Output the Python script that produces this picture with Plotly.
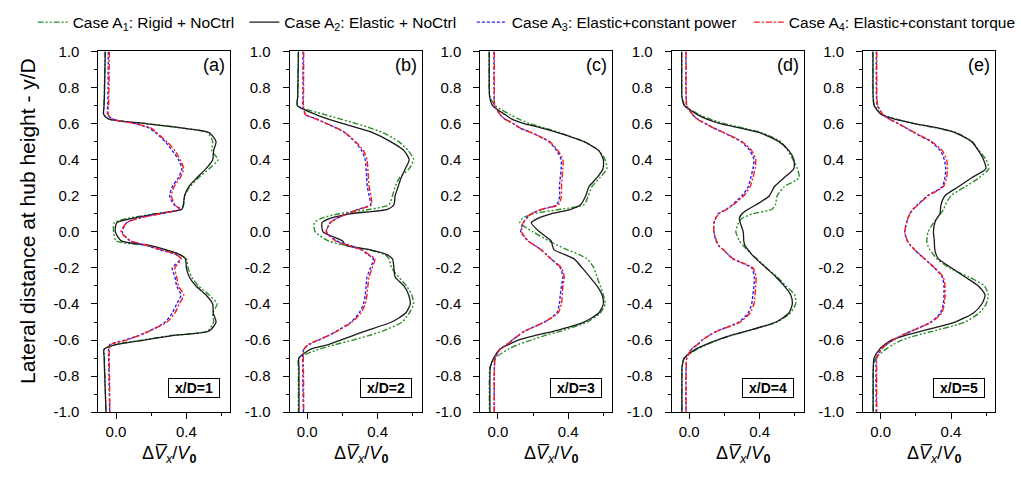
import plotly.graph_objects as go

# ---------------- data ----------------
Y = [1.0, 0.8, 0.75, 0.7, 0.65, 0.625, 0.6, 0.575, 0.55, 0.5, 0.45, 0.4, 0.35, 0.3, 0.25,
     0.2, 0.15, 0.125, 0.1, 0.075, 0.05, 0.0, -0.05, -0.075, -0.1, -0.125, -0.15, -0.2,
     -0.25, -0.3, -0.35, -0.4, -0.45, -0.5, -0.55, -0.575, -0.6, -0.625, -0.65, -0.7,
     -0.75, -0.8, -1.0]

# x/D = 1
A1_1 = [-0.062, -0.066, -0.067, -0.069, -0.070, -0.040, 0.170, 0.380, 0.520, 0.550, 0.545, 0.580, 0.530, 0.470, 0.420, 0.390, 0.385, 0.370, 0.220, 0.070, -0.010, -0.014, 0.000, 0.170, 0.280, 0.360, 0.400, 0.410, 0.430, 0.470, 0.530, 0.575, 0.550, 0.555, 0.520, 0.310, 0.150, -0.010, -0.066, -0.066, -0.065, -0.063, -0.057]
A2_1 = [-0.061, -0.065, -0.066, -0.068, -0.070, -0.040, 0.170, 0.380, 0.530, 0.569, 0.555, 0.550, 0.512, 0.460, 0.413, 0.390, 0.383, 0.375, 0.230, 0.095, 0.004, -0.004, 0.030, 0.190, 0.285, 0.360, 0.395, 0.400, 0.417, 0.455, 0.512, 0.550, 0.553, 0.569, 0.530, 0.320, 0.160, 0.000, -0.068, -0.067, -0.066, -0.064, -0.057]
A3_1 = [-0.044, -0.045, -0.046, -0.047, -0.048, -0.020, 0.110, 0.190, 0.225, 0.280, 0.320, 0.355, 0.375, 0.355, 0.320, 0.305, 0.330, 0.370, 0.250, 0.120, 0.060, 0.035, 0.080, 0.170, 0.250, 0.340, 0.370, 0.320, 0.335, 0.345, 0.370, 0.345, 0.320, 0.280, 0.190, 0.130, 0.050, -0.035, -0.042, -0.042, -0.041, -0.040, -0.036]
A4_1 = [-0.038, -0.040, -0.041, -0.042, -0.044, -0.020, 0.110, 0.200, 0.230, 0.290, 0.335, 0.365, 0.385, 0.365, 0.330, 0.315, 0.335, 0.360, 0.250, 0.130, 0.060, 0.028, 0.085, 0.180, 0.260, 0.340, 0.370, 0.335, 0.345, 0.355, 0.385, 0.360, 0.335, 0.290, 0.190, 0.130, 0.060, -0.030, -0.038, -0.038, -0.038, -0.037, -0.035]

# x/D = 2
A1_2 = [-0.050, -0.053, -0.054, -0.055, 0.100, 0.190, 0.280, 0.360, 0.430, 0.520, 0.575, 0.605, 0.580, 0.525, 0.500, 0.485, 0.465, 0.360, 0.180, 0.080, 0.040, 0.045, 0.120, 0.220, 0.350, 0.440, 0.465, 0.480, 0.520, 0.565, 0.595, 0.605, 0.580, 0.540, 0.430, 0.350, 0.260, 0.160, 0.070, -0.050, -0.050, -0.050, -0.050]
A2_2 = [-0.050, -0.053, -0.054, -0.056, 0.050, 0.120, 0.205, 0.290, 0.372, 0.474, 0.550, 0.580, 0.558, 0.534, 0.517, 0.500, 0.493, 0.456, 0.242, 0.130, 0.084, 0.090, 0.200, 0.220, 0.360, 0.450, 0.485, 0.493, 0.500, 0.550, 0.577, 0.586, 0.560, 0.480, 0.330, 0.260, 0.190, 0.120, 0.020, -0.047, -0.047, -0.047, -0.047]
A3_2 = [-0.024, -0.024, -0.024, -0.025, -0.010, 0.056, 0.110, 0.167, 0.214, 0.270, 0.310, 0.330, 0.335, 0.338, 0.342, 0.352, 0.360, 0.290, 0.225, 0.167, 0.130, 0.110, 0.167, 0.242, 0.307, 0.344, 0.376, 0.360, 0.340, 0.335, 0.330, 0.320, 0.295, 0.250, 0.167, 0.120, 0.065, 0.010, -0.020, -0.025, -0.025, -0.025, -0.022]
A4_2 = [-0.020, -0.021, -0.021, -0.022, -0.010, 0.050, 0.110, 0.170, 0.215, 0.275, 0.320, 0.340, 0.345, 0.348, 0.352, 0.362, 0.365, 0.295, 0.228, 0.170, 0.130, 0.108, 0.160, 0.235, 0.310, 0.350, 0.385, 0.370, 0.352, 0.345, 0.340, 0.330, 0.305, 0.255, 0.170, 0.120, 0.060, 0.005, -0.018, -0.022, -0.022, -0.021, -0.020]

# x/D = 3
A1_3 = [-0.049, -0.049, -0.045, -0.015, 0.070, 0.120, 0.180, 0.270, 0.350, 0.490, 0.575, 0.610, 0.620, 0.580, 0.535, 0.515, 0.490, 0.360, 0.200, 0.140, 0.125, 0.200, 0.290, 0.340, 0.396, 0.460, 0.508, 0.546, 0.564, 0.583, 0.600, 0.610, 0.583, 0.508, 0.360, 0.265, 0.190, 0.116, 0.060, -0.015, -0.045, -0.048, -0.048]
A2_3 = [-0.049, -0.049, -0.047, -0.030, 0.040, 0.080, 0.150, 0.250, 0.340, 0.490, 0.574, 0.600, 0.598, 0.564, 0.518, 0.500, 0.470, 0.415, 0.303, 0.228, 0.190, 0.237, 0.303, 0.310, 0.320, 0.378, 0.434, 0.480, 0.523, 0.564, 0.593, 0.600, 0.574, 0.490, 0.320, 0.210, 0.116, 0.060, 0.013, -0.024, -0.043, -0.045, -0.045]
A3_3 = [-0.022, -0.022, -0.021, -0.020, 0.013, 0.040, 0.088, 0.125, 0.190, 0.290, 0.335, 0.360, 0.360, 0.355, 0.350, 0.352, 0.335, 0.247, 0.190, 0.163, 0.144, 0.130, 0.172, 0.210, 0.247, 0.275, 0.303, 0.355, 0.370, 0.362, 0.355, 0.350, 0.335, 0.265, 0.153, 0.116, 0.082, 0.050, 0.013, -0.015, -0.020, -0.021, -0.021]
A4_3 = [-0.020, -0.020, -0.020, -0.018, 0.013, 0.040, 0.088, 0.128, 0.190, 0.295, 0.342, 0.370, 0.370, 0.365, 0.362, 0.362, 0.345, 0.250, 0.190, 0.163, 0.144, 0.135, 0.172, 0.210, 0.247, 0.275, 0.303, 0.362, 0.378, 0.370, 0.366, 0.362, 0.342, 0.265, 0.153, 0.116, 0.082, 0.050, 0.013, -0.015, -0.019, -0.020, -0.020]

# x/D = 4
A1_4 = [-0.043, -0.043, -0.042, -0.025, 0.055, 0.120, 0.200, 0.310, 0.410, 0.520, 0.560, 0.590, 0.615, 0.625, 0.540, 0.500, 0.490, 0.470, 0.360, 0.300, 0.280, 0.265, 0.285, 0.305, 0.330, 0.355, 0.385, 0.440, 0.500, 0.550, 0.600, 0.605, 0.575, 0.500, 0.330, 0.235, 0.160, 0.100, 0.045, -0.030, -0.041, -0.042, -0.042]
A2_4 = [-0.043, -0.043, -0.042, -0.028, 0.047, 0.100, 0.177, 0.290, 0.400, 0.510, 0.567, 0.595, 0.595, 0.540, 0.484, 0.456, 0.380, 0.335, 0.300, 0.285, 0.290, 0.307, 0.310, 0.316, 0.335, 0.355, 0.380, 0.437, 0.493, 0.540, 0.577, 0.586, 0.567, 0.493, 0.326, 0.233, 0.158, 0.093, 0.037, -0.028, -0.041, -0.042, -0.042]
A3_4 = [-0.019, -0.019, -0.018, -0.015, 0.019, 0.047, 0.093, 0.140, 0.195, 0.295, 0.345, 0.368, 0.362, 0.350, 0.335, 0.300, 0.245, 0.210, 0.165, 0.150, 0.140, 0.140, 0.152, 0.165, 0.195, 0.220, 0.248, 0.355, 0.370, 0.368, 0.362, 0.355, 0.335, 0.283, 0.158, 0.112, 0.074, 0.047, 0.013, -0.015, -0.018, -0.019, -0.019]
A4_4 = [-0.018, -0.018, -0.017, -0.014, 0.019, 0.045, 0.090, 0.140, 0.198, 0.300, 0.355, 0.378, 0.374, 0.362, 0.346, 0.310, 0.250, 0.214, 0.168, 0.150, 0.140, 0.140, 0.155, 0.168, 0.195, 0.222, 0.250, 0.363, 0.380, 0.378, 0.374, 0.368, 0.345, 0.290, 0.160, 0.112, 0.074, 0.047, 0.013, -0.014, -0.017, -0.018, -0.018]

# x/D = 5
A1_5 = [-0.044, -0.044, -0.043, -0.035, 0.010, 0.090, 0.190, 0.320, 0.430, 0.520, 0.560, 0.600, 0.615, 0.560, 0.480, 0.400, 0.368, 0.358, 0.340, 0.320, 0.300, 0.270, 0.262, 0.268, 0.280, 0.300, 0.320, 0.390, 0.500, 0.590, 0.612, 0.600, 0.560, 0.480, 0.300, 0.200, 0.120, 0.070, 0.030, -0.030, -0.042, -0.043, -0.043]
A2_5 = [-0.044, -0.044, -0.043, -0.038, 0.004, 0.080, 0.194, 0.330, 0.423, 0.518, 0.556, 0.585, 0.598, 0.518, 0.442, 0.366, 0.343, 0.340, 0.337, 0.320, 0.308, 0.300, 0.305, 0.306, 0.308, 0.315, 0.328, 0.404, 0.480, 0.556, 0.594, 0.575, 0.528, 0.423, 0.232, 0.137, 0.061, 0.023, -0.006, -0.038, -0.042, -0.043, -0.043]
A3_5 = [-0.025, -0.025, -0.024, -0.019, 0.013, 0.050, 0.100, 0.145, 0.190, 0.285, 0.340, 0.362, 0.370, 0.365, 0.350, 0.265, 0.210, 0.183, 0.165, 0.155, 0.147, 0.137, 0.152, 0.170, 0.194, 0.220, 0.250, 0.305, 0.350, 0.360, 0.360, 0.356, 0.340, 0.285, 0.175, 0.118, 0.070, 0.032, 0.004, -0.025, -0.026, -0.027, -0.025]
A4_5 = [-0.022, -0.022, -0.021, -0.017, 0.013, 0.050, 0.100, 0.147, 0.194, 0.290, 0.350, 0.375, 0.380, 0.375, 0.356, 0.270, 0.213, 0.185, 0.166, 0.155, 0.147, 0.137, 0.152, 0.170, 0.194, 0.222, 0.250, 0.308, 0.356, 0.366, 0.366, 0.362, 0.347, 0.290, 0.175, 0.118, 0.070, 0.032, 0.004, -0.022, -0.023, -0.023, -0.022]

PANEL_LABELS = ["(a)", "(b)", "(c)", "(d)", "(e)"]
STATION_LABELS = ["x/D=1", "x/D=2", "x/D=3", "x/D=4", "x/D=5"]
SERIES_NAMES = ["Case A<sub>1</sub>: Rigid + NoCtrl",
                "Case A<sub>2</sub>: Elastic + NoCtrl",
                "Case A<sub>3</sub>: Elastic+constant power",
                "Case A<sub>4</sub>: Elastic+constant torque"]
X_TICKS = [0.0, 0.4]
X_TICK_TEXT = ["0.0", "0.4"]
X_MINOR = [0.2, 0.6]
Y_TICKS = [1.0, 0.8, 0.6, 0.4, 0.2, 0.0, -0.2, -0.4, -0.6, -0.8, -1.0]
Y_TICK_TEXT = ["1.0", "0.8", "0.6", "0.4", "0.2", "0.0", "-0.2", "-0.4", "-0.6", "-0.8", "-1.0"]
Y_MINOR = [0.9, 0.7, 0.5, 0.3, 0.1, -0.1, -0.3, -0.5, -0.7, -0.9]

PANELS = [[A1_1, A2_1, A3_1, A4_1],
          [A1_2, A2_2, A3_2, A4_2],
          [A1_3, A2_3, A3_3, A4_3],
          [A1_4, A2_4, A3_4, A4_4],
          [A1_5, A2_5, A3_5, A4_5]]
for p in PANELS:
    for s in p:
        assert len(s) == len(Y), len(s)

# ---------------- styling ----------------
W, H = 1021, 481
FONT = "Liberation Sans, Arial, sans-serif"
STYLES = [dict(color="#2a8f2a", dash="6px,2px,2px,2px,2px,2px", width=1.4),
          dict(color="#1a1a1a", dash="solid", width=1.3),
          dict(color="#1f1fff", dash="3px,2px", width=1.4),
          dict(color="#ff1a1a", dash="6px,2px,2px,2px", width=1.4)]
DRAW_ORDER = [0, 1, 2, 3]
PANEL_LEFT_PX = [99.5, 292.8, 485.5, 679.0, 872.5]
PANEL_W_PX = 133.3
TOP_PX, BOT_PX = 44.0, 418.0
LEGEND_X_PX = [33, 247, 477, 757]
LEGEND_KEYS = ["legend", "legend2", "legend3", "legend4"]
TICK_SIZE = 15

fig = go.Figure()
for pi, series in enumerate(PANELS):
    xa = "x" if pi == 0 else f"x{pi+1}"
    ya = "y" if pi == 0 else f"y{pi+1}"
    for si in DRAW_ORDER:
        fig.add_trace(go.Scatter(
            x=series[si], y=Y, mode="lines", xaxis=xa, yaxis=ya,
            name=SERIES_NAMES[si], legend=LEGEND_KEYS[si],
            showlegend=(pi == 0),
            line=dict(shape="spline", smoothing=0.6, **STYLES[si]),
            hoverinfo="skip"))

layout = dict(width=W, height=H, margin=dict(l=0, r=0, t=0, b=0),
              paper_bgcolor="white", plot_bgcolor="white",
              font=dict(family=FONT, size=14, color="black"),
              showlegend=True)

ann = []
for pi in range(5):
    x0 = PANEL_LEFT_PX[pi] / W
    x1 = (PANEL_LEFT_PX[pi] + PANEL_W_PX) / W
    y0 = 1 - BOT_PX / H
    y1 = 1 - TOP_PX / H
    sfx = "" if pi == 0 else str(pi + 1)
    layout["xaxis" + sfx] = dict(
        domain=[x0, x1], anchor="y" + sfx, range=[-0.1, 0.65],
        tickvals=X_TICKS, ticktext=X_TICK_TEXT, ticks="outside", ticklen=6,
        tickwidth=1, tickcolor="black",
        minor=dict(tickvals=X_MINOR, ticks="outside", ticklen=3, tickwidth=1, tickcolor="black"),
        showline=True, linecolor="black", linewidth=1, mirror=True,
        showgrid=False, zeroline=False, tickfont=dict(size=TICK_SIZE, family=FONT))
    layout["yaxis" + sfx] = dict(
        domain=[y0, y1], anchor="x" + sfx, range=[-1.0, 1.0],
        tickvals=Y_TICKS, ticktext=Y_TICK_TEXT, ticks="outside", ticklen=6,
        tickwidth=1, tickcolor="black",
        minor=dict(tickvals=Y_MINOR, ticks="outside", ticklen=3, tickwidth=1, tickcolor="black"),
        showline=True, linecolor="black", linewidth=1, mirror=True,
        showgrid=False, zeroline=False, tickfont=dict(size=TICK_SIZE, family=FONT),
        ticklabelstandoff=9)
    # panel letter
    ann.append(dict(text=PANEL_LABELS[pi], xref="paper", yref="paper",
                    x=(PANEL_LEFT_PX[pi] + PANEL_W_PX - 3) / W, y=1 - (TOP_PX + 2) / H,
                    xanchor="right", yanchor="top", showarrow=False,
                    font=dict(size=18, family=FONT)))
    # station box
    ann.append(dict(text="<b>" + STATION_LABELS[pi] + "</b>", xref="paper", yref="paper",
                    x=(PANEL_LEFT_PX[pi] + PANEL_W_PX - 10) / W, y=1 - (BOT_PX - 15) / H,
                    xanchor="right", yanchor="bottom", showarrow=False,
                    font=dict(size=14, family=FONT), width=48, height=16,
                    bordercolor="black", borderwidth=1, borderpad=1, bgcolor="white"))
    # x title
    ann.append(dict(text="Δ<i>V\u0305<sub>x</sub></i>/<i>V</i><b><sub>0</sub></b>",
                    xref="paper", yref="paper",
                    x=(PANEL_LEFT_PX[pi] + PANEL_W_PX / 2 + 5) / W, y=1 - 462 / H,
                    xanchor="center", yanchor="middle", showarrow=False,
                    font=dict(size=18, family=FONT)))

ann.append(dict(text="Lateral distance at hub height - y/D", xref="paper", yref="paper",
                x=28 / W, y=1 - 220 / H, xanchor="center", yanchor="middle",
                textangle=-90, showarrow=False, font=dict(size=21, family=FONT)))
layout["annotations"] = ann

for k, key in enumerate(LEGEND_KEYS):
    layout[key] = dict(x=LEGEND_X_PX[k] / W, y=1 - 14 / H, xanchor="left", yanchor="middle",
                       orientation="h", bgcolor="rgba(0,0,0,0)", borderwidth=0,
                       font=dict(size=15.5, family=FONT), itemwidth=30)

fig.update_layout(**layout)
fig.write_html("out.html")
